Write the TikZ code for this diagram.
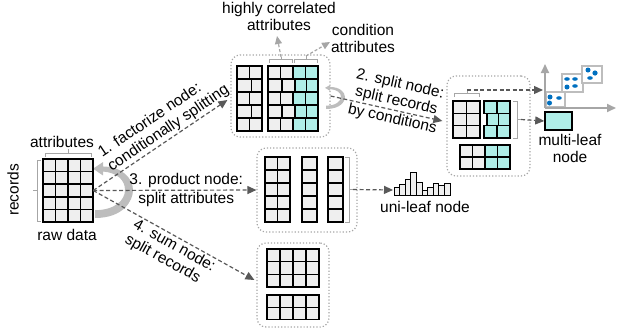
\documentclass[tikz,border=0pt]{standalone}
\usepackage{fontspec}
\setmainfont{Liberation Sans}
\usetikzlibrary{arrows.meta,calc}

\definecolor{cellgray}{HTML}{EFEFEF}
\definecolor{cellcyan}{HTML}{AFEEE8}
\definecolor{arrowdark}{HTML}{595959}
\definecolor{softgray}{HTML}{A6A6A6}
\definecolor{loopgray}{HTML}{BDBDBD}
\definecolor{dotblue}{HTML}{0070C0}

% a block of ncols x nrows cells: x0 y0 w h ncols nrows fill
\newcommand\cellblock[7]{%
  \foreach \ci in {1,...,#5}{\foreach \cj in {1,...,#6}{%
    \draw[cell,fill=#7] ({#1+(\ci-1)*#3},{#2+(\cj-1)*#4}) rectangle ++(#3,#4);}}}
% one row of cells with given borders: y0 h fill {a/b,...}
\newcommand\cellrow[4]{%
  \foreach \ca/\cb in {#4}{\draw[cell,fill=#3] (\ca,#1) rectangle (\cb,{#1+#2});}}

\tikzset{
  cell/.style={draw=black, line width=1.5pt},
  panel/.style={draw=softgray, dotted, line width=1.2pt, rounded corners=9pt, inner sep=0pt},
  flow/.style={draw=arrowdark, line width=1.2pt, dash pattern=on 4pt off 2.5pt,
    -{Triangle[length=9pt,width=8pt]}},
  hint/.style={draw=softgray, line width=1.2pt, dash pattern=on 3pt off 2pt,
    -{Triangle[length=8pt,width=7pt]}},
  axis/.style={draw=softgray, line width=1.8pt, -{Triangle[length=9pt,width=8pt]}},
  brace/.style={draw=softgray, line width=0.9pt},
  lbl/.style={font=\fontsize{15.5}{17}\selectfont, inner sep=1.5pt, align=center},
  bar/.style={draw=black, line width=0.8pt, fill=cellgray},
  dot/.style={fill=dotblue},
  scatterbox/.style={draw=loopgray, line width=1.3pt, fill=white},
  pics/turn/.style={code={
    \fill[loopgray] (0.05,0.5) .. controls (0.75,0.5) and (1.0,0.2) .. (1.0,0)
      .. controls (1.0,-0.22) and (0.7,-0.42) .. (0.25,-0.42)
      -- (0.25,-0.5) -- (0,-0.38) -- (0.25,-0.26) -- (0.25,-0.33)
      .. controls (0.6,-0.31) and (0.8,-0.18) .. (0.8,0)
      .. controls (0.8,0.18) and (0.55,0.36) .. (0.05,0.36) -- cycle;
  }},
}

\begin{document}
\begin{tikzpicture}[x=1pt,y=-1pt]
\useasboundingbox (0,0) rectangle (631,330);

% ---------- raw data ----------
\node[minimum width=50pt, minimum height=63pt, inner sep=0pt] (raw) at (68,190.5) {};
\pic[xscale=40,yscale=56] at (93,190) {turn};
\cellblock{43}{159}{12.5}{12.6}{4}{5}{cellgray}
\draw[brace] (45,157) -- (45,153) -- (91,153) -- (91,157) (68,153) -- (68,149);
\draw[brace] (41,160) -- (37,160) -- (37,221) -- (41,221) (37,190.5) -- (33,190.5);
\node[lbl] (attrs) at (62,142) {attributes};
\node[lbl, rotate=90] (recs) at (13,190) {records};
\node[lbl] (rawlbl) at (67,235) {raw data};

% ---------- panels ----------
\node[panel, minimum width=99pt, minimum height=82pt] (fact) at (280.5,96) {};
\node[panel, minimum width=83pt, minimum height=100pt] (split) at (488.5,126) {};
\node[panel, minimum width=100pt, minimum height=84pt] (prod) at (307,190) {};
\node[panel, minimum width=72pt, minimum height=84pt] (sum) at (293,285) {};

% ---------- factorize node content ----------
\foreach \r in {0,2,4}{
  \cellrow{66+13*\r}{13}{cellgray}{237/249.5,249.5/262}
  \cellrow{66+13*\r}{13}{cellgray}{268/280.5,280.5/293}
  \cellrow{66+13*\r}{13}{cellcyan}{293/305.5,305.5/318}}
\foreach \r in {1,3}{
  \cellrow{66+13*\r}{13}{cellgray}{237/251.5,251.5/262}
  \cellrow{66+13*\r}{13}{cellgray}{268/282,282/295}
  \cellrow{66+13*\r}{13}{cellcyan}{295/306.5,306.5/318}}
\draw[brace] (269,63) -- (269,59) -- (292,59) -- (292,63) (281,59) -- (281,57);
\draw[brace] (294,63) -- (294,59) -- (317,59) -- (317,63) (306,59) -- (306,56);
\coordinate (corrfoot) at (281,57);
\coordinate (corrtip) at (277,36);
\coordinate (condfoot) at (306,56);
\coordinate (condtip) at (330,42);
\draw[hint] (corrfoot) -- (corrtip);
\draw[hint] (condfoot) -- (condtip);
\node[lbl] (corr) at (279,16.5) {highly correlated\\attributes};
\node[lbl] (cond) at (363,38) {condition\\attributes};
\pic[xscale=20,yscale=24] at (325,97) {turn};

% ---------- split node content ----------
\cellblock{453}{101}{13.5}{12.33}{2}{3}{cellgray}
\cellrow{101}{12.33}{cellcyan}{484/497,497/510}
\cellrow{113.33}{12.33}{cellcyan}{487/498.5,498.5/510}
\cellrow{125.66}{12.33}{cellcyan}{484/497,497/510}
\cellblock{460}{145}{12.5}{12}{2}{2}{cellgray}
\cellblock{485}{145}{12.5}{12}{2}{2}{cellcyan}
\draw[brace] (454,97) -- (454,93) -- (479,93) -- (479,97) (467,93) -- (467,90);
\draw[brace] (513,101) -- (517,101) -- (517,138) -- (513,138) (517,119.5) -- (521,119.5);
\coordinate (splitgrp) at (467,90);
\coordinate (splitcond) at (521,119.5);

% ---------- multi-leaf node ----------
\draw[scatterbox] (546,92) rectangle (565,107);
\draw[scatterbox] (562,74) rectangle (583,92);
\draw[scatterbox] (582,66) rectangle (602,83);
\fill[dot] (550,97) circle (2.5) (549.5,103) circle (2.5) (559,98) ellipse (2.8 and 1.8);
\fill[dot] (567,79) ellipse (2.8 and 1.8) (575,79) ellipse (2.8 and 1.8)
           (567,87) circle (2.5) (575,86) ellipse (2.8 and 1.8);
\fill[dot] (588,70) circle (2.5) (595,73) circle (2.6) (590,78) ellipse (2.8 and 1.8);
\coordinate (origin) at (545,108);
\coordinate (ytip) at (545,64);
\coordinate (xtip) at (616,108);
\draw[axis] (origin) -- (ytip);
\draw[axis] (origin) -- (xtip);
\node[draw=black, line width=1.5pt, fill=cellcyan, minimum width=27pt, minimum height=18pt,
      inner sep=0pt] (multi) at (558.5,121) {};
\node[lbl] (multilbl) at (570,148.5) {multi-leaf\\node};
\coordinate (scatterin) at (543,90);
\draw[flow] (splitgrp) -- (scatterin);
\draw[flow] (splitcond) -- (multi.west);

% ---------- product node content ----------
\cellblock{265}{157}{12.5}{13}{2}{5}{cellgray}
\cellblock{302}{157}{15}{13}{1}{5}{cellgray}
\cellblock{328}{157}{15}{13}{1}{5}{cellgray}
\draw[brace] (345,157) -- (349,157) -- (349,222) -- (345,222) (349,189.5) -- (353,189.5);
\coordinate (prodout) at (353,189.5);
\coordinate (hist) at (393,190);
\foreach \h [count=\k] in {8,11,16,23,13,5,8,12,10,12}
  \draw[bar] ({394+(\k-1)*5.6},195) rectangle ++(5.6,-\h);
\node[lbl] (unilbl) at (425,207) {uni-leaf node};
\draw[flow] (prodout) -- (hist);

% ---------- sum node content ----------
\cellblock{267}{249}{13}{12.7}{4}{3}{cellgray}
\cellblock{267}{295}{13}{12.3}{4}{2}{cellgray}

% ---------- operations on the raw data ----------
\draw[flow] (raw.east) -- node[lbl, sloped, above, pos=0.6, align=left]
  {1. factorize node:\\conditionally splitting} ($(fact.west)+(-3,4)$);
\draw[flow] (fact.east) -- node[lbl, sloped, above, pos=0.57] {2. split node:\\split records}
  node[lbl, sloped, below, pos=0.57] {by conditions} ($(split.west)+(-4,-5)$);
\draw[flow] (raw.east) -- node[lbl, above, pos=0.57] {3. product node:}
  node[lbl, below, pos=0.57] {split attributes} (prod.west);
\draw[flow] (raw.east) -- node[lbl, sloped, below, pos=0.53, align=left]
  {4. sum node:\\split records} ($(sum.west)+(-2,-5)$);
\end{tikzpicture}
\end{document}
